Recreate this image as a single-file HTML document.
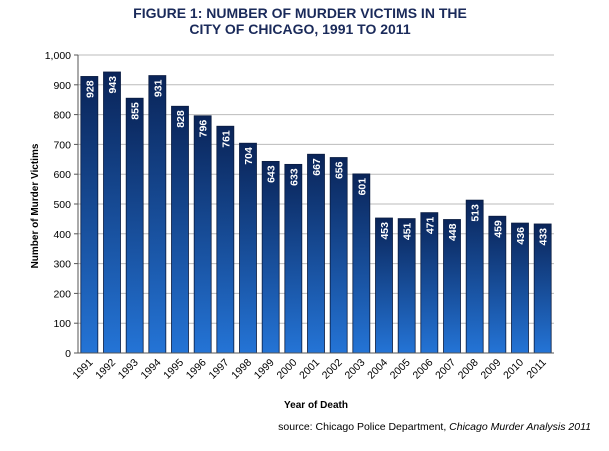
<!DOCTYPE html>
<html><head><meta charset="utf-8"><style>
body{margin:0;background:#fff;}
svg text{font-family:"Liberation Sans",Arial,sans-serif;}
</style></head><body>
<svg width="609" height="446" viewBox="0 0 609 446">
<defs><linearGradient id="g" x1="0" y1="0" x2="0" y2="1"><stop offset="0" stop-color="#0a2458"/><stop offset="1" stop-color="#2474d6"/></linearGradient></defs>
<text x="300" y="18" text-anchor="middle" font-weight="bold" font-size="14" fill="#1a2a5a">FIGURE 1: NUMBER OF MURDER VICTIMS IN THE</text>
<text x="300" y="34" text-anchor="middle" font-weight="bold" font-size="14" fill="#1a2a5a">CITY OF CHICAGO, 1991 TO 2011</text>
<g id="grid"></g><g id="bars"></g><g id="axes"></g>
<text transform="translate(38,206) rotate(-90)" text-anchor="middle" font-weight="bold" font-size="10">Number of Murder Victims</text>
<text x="316" y="408" text-anchor="middle" font-weight="bold" font-size="10">Year of Death</text>
<text x="591" y="430" text-anchor="end" font-size="10.5">source: Chicago Police Department, <tspan font-style="italic">Chicago Murder Analysis 2011</tspan></text>
</svg>
<script>
const years=["1991","1992","1993","1994","1995","1996","1997","1998","1999","2000","2001","2002","2003","2004","2005","2006","2007","2008","2009","2010","2011"];
const victims=[928,943,855,931,828,796,761,704,643,633,667,656,601,453,451,471,448,513,459,436,433];
const yTicks=[0,100,200,300,400,500,600,700,800,900,1000];
const NS="http://www.w3.org/2000/svg";
const x0=78,x1=554,yTop=55,yBot=353,yMax=1000;
const cw=(x1-x0)/years.length,bw=17;
function ys(v){return yBot-(v/yMax)*(yBot-yTop);}
function xs(i){return x0+i*cw+cw/2;}
function mk(t,a,p){const e=document.createElementNS(NS,t);for(const k in a)e.setAttribute(k,a[k]);p.appendChild(e);return e;}
const grid=document.getElementById('grid'),bars=document.getElementById('bars'),axes=document.getElementById('axes');
yTicks.forEach(v=>{
 const y=ys(v);
 if(v>0){const l=mk('line',{x1:x0,x2:x1,y1:y,y2:y,stroke:'#bbb','stroke-width':1},grid);
 
 }
 const tk=mk('line',{x1:x0-4,x2:x0,y1:y,y2:y,stroke:'#555'},axes);
 
 
 const t=mk('text',{x:x0-7,y:y+4,'text-anchor':'end','font-size':'10.5'},axes);
 t.textContent=v>=1000?v.toLocaleString('en-US'):v;
 
 
});
victims.forEach((v,i)=>{
 const cx=xs(i),y=ys(v);
 const r=mk('rect',{x:cx-bw/2,y:y,width:bw,height:yBot-y,fill:'url(#g)',stroke:'#0a1c40','stroke-width':0.8},bars);
 
 
 const t=mk('text',{transform:`translate(${cx+4},${y+4}) rotate(-90)`,'text-anchor':'end','font-size':'10.5','font-weight':'bold',fill:'#fff'},bars);
 t.textContent=v;
 
 
 const xl=mk('text',{transform:`translate(${cx+4},${yBot+10}) rotate(-45)`,'text-anchor':'end','font-size':'10.5'},axes);
 xl.textContent=years[i];
 
 
});
const ya=mk('line',{x1:x0,x2:x0,y1:yTop,y2:yBot,stroke:'#555'},axes);


const xa=mk('line',{x1:x0,x2:x1,y1:yBot,y2:yBot,stroke:'#555'},axes);


</script>
</body></html>
